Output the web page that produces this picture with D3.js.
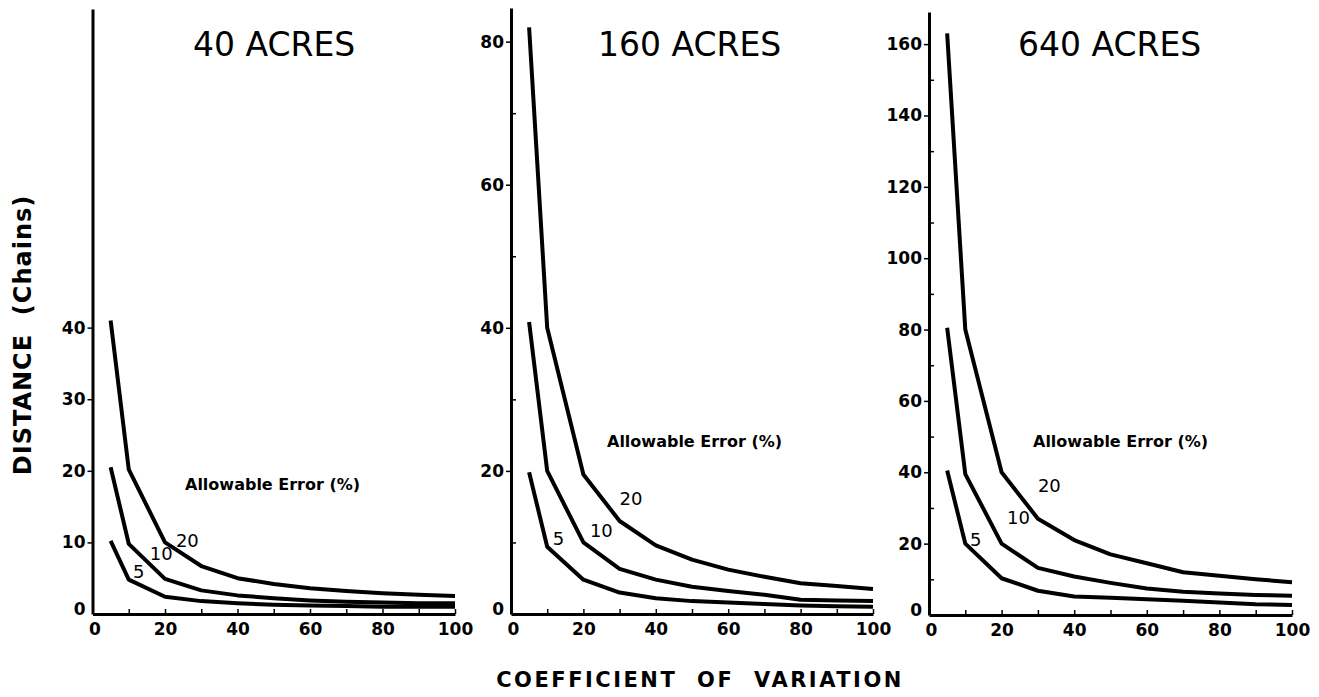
<!DOCTYPE html>
<html>
<head>
<meta charset="utf-8">
<script src="https://cdn.jsdelivr.net/npm/d3@7"></script>
<style>
	html, body { margin: 0; padding: 0; background: #fff; }
	svg { display: block; }
	.axis path, .axis line { stroke: #000; }
	.axis text { font-family: "DejaVu Sans", sans-serif; font-weight: bold; font-size: 17px; fill: #000; }
	.title { font-family: "DejaVu Sans", sans-serif; font-size: 33px; }
	.bold { font-family: "DejaVu Sans", sans-serif; font-weight: bold; }
</style>
</head>
<body>
<svg id="chart" width="1319" height="697"></svg>
<script>

// coefficient of variation (x)
var cv = [5, 10, 20, 30, 40, 50, 60, 70, 80, 90, 100];
var xTicks = [0, 10, 20, 30, 40, 50, 60, 70, 80, 90, 100];
var xLabels = [0, 20, 40, 60, 80, 100];

// distance in chains, one array per allowable error (5, 10, 20 %)
var acres40_e5 = [10.2, 4.8, 2.4, 1.8, 1.5, 1.3, 1.2, 1.1, 1.0, 1.0, 1.0];
var acres40_e10 = [20.5, 9.8, 4.9, 3.3, 2.6, 2.2, 1.9, 1.7, 1.6, 1.5, 1.5];
var acres40_e20 = [41, 20.2, 10, 6.7, 5, 4.2, 3.6, 3.2, 2.9, 2.7, 2.5];

var acres160_e5 = [19.8, 9.4, 4.8, 3.0, 2.2, 1.8, 1.6, 1.4, 1.2, 1.1, 1.0];
var acres160_e10 = [40.8, 20, 10, 6.3, 4.8, 3.8, 3.2, 2.7, 2.0, 1.9, 1.8];
var acres160_e20 = [82, 40, 19.5, 13, 9.6, 7.6, 6.2, 5.2, 4.3, 3.9, 3.5];

var acres640_e5 = [40.5, 20, 10.3, 6.8, 5.2, 4.8, 4.4, 4.0, 3.5, 3.0, 2.8];
var acres640_e10 = [80.5, 39.5, 20, 13.2, 10.8, 9, 7.4, 6.5, 6, 5.6, 5.4];
var acres640_e20 = [163, 80, 40, 27, 21, 17, 14.5, 12, 11, 10, 9.2];

var errorLabels = ['5', '10', '20'];

// curve label anchors, in data units [cv, distance]
var labelAt40 = [[11.2, 5.0], [15.8, 7.5], [23, 9.3]];
var labelAt160 = [[11.5, 9.6], [21.8, 10.8], [30, 15.3]];
var labelAt640 = [[11.3, 19.3], [21.5, 25.5], [30, 34.5]];

var panels, svg, line;

panels = [
	{ title: '40 ACRES', series: [acres40_e5, acres40_e10, acres40_e20], labels: labelAt40,
		yTicks: [0, 10, 20, 30, 40], yMinor: [], yMax: 84.5,
		left: 92.5, right: 455, bottom: 614, top: 9, titleX: 193, noteX: 185, noteY: 490 },
	{ title: '160 ACRES', series: [acres160_e5, acres160_e10, acres160_e20], labels: labelAt160,
		yTicks: [0, 20, 40, 60, 80], yMinor: [10, 30, 50, 70], yMax: 84.7,
		left: 511, right: 873, bottom: 614, top: 8, titleX: 598, noteX: 607, noteY: 447 },
	{ title: '640 ACRES', series: [acres640_e5, acres640_e10, acres640_e20], labels: labelAt640,
		yTicks: [0, 20, 40, 60, 80, 100, 120, 140, 160], yMinor: [10, 30, 50, 70, 90, 110, 130, 150], yMax: 169,
		left: 929, right: 1292, bottom: 615, top: 12, titleX: 1018, noteX: 1033, noteY: 447 }
];

svg = d3.select('#chart');

panels.forEach(drawPanel);

// shared axis titles
svg.append('text')
	.attr('class', 'bold')
	.attr('transform', 'translate(31,335) rotate(-90)')
	.attr('text-anchor', 'middle')
	.attr('font-size', 24)
	.attr('letter-spacing', 1)
	.attr('xml:space', 'preserve')
	.text('DISTANCE  (Chains)');

svg.append('text')
	.attr('class', 'bold')
	.attr('x', 700)
	.attr('y', 687)
	.attr('text-anchor', 'middle')
	.attr('font-size', 21)
	.attr('letter-spacing', 2.5)
	.attr('word-spacing', 10)
	.text('COEFFICIENT OF VARIATION');

function drawPanel(p) {
	var x, y, g, xAxis, yAxis, yMinor;

	x = d3.scaleLinear().domain([0, 100]).range([p.left, p.right]);
	y = d3.scaleLinear().domain([0, p.yMax]).range([p.bottom, p.top]);

	g = svg.append('g');

	xAxis = d3.axisBottom(x)
		.tickValues(xTicks)
		.tickSize(-5)
		.tickSizeOuter(0)
		.tickPadding(9)
		.tickFormat(function(d) {
			return xLabels.indexOf(d) > -1 ? d : '';
		});

	g.append('g')
		.attr('class', 'axis')
		.attr('transform', 'translate(0,' + p.bottom + ')')
		.call(xAxis)
		.call(function(s) {
			s.select('.domain').attr('stroke-width', 3);
			s.selectAll('.tick line').attr('stroke-width', 1.5);
			s.selectAll('.tick text').attr('dx', function(d) { return d === 0 ? 2 : 0; });
		});

	yAxis = d3.axisLeft(y)
		.tickValues(p.yTicks)
		.tickSize(5)
		.tickSizeOuter(0)
		.tickPadding(2);

	g.append('g')
		.attr('class', 'axis')
		.attr('transform', 'translate(' + p.left + ',0)')
		.call(yAxis)
		.call(function(s) {
			s.select('.domain').attr('stroke-width', 3);
			s.selectAll('.tick line').attr('stroke-width', 1.5)
				.attr('opacity', function(d) { return d === 0 ? 0 : 1; });
			s.selectAll('.tick text').attr('dy', function(d) { return d === 0 ? '0.05em' : '0.32em'; });
		});

	yMinor = d3.axisRight(y)
		.tickValues(p.yMinor)
		.tickSize(5)
		.tickSizeOuter(0)
		.tickFormat('');

	g.append('g')
		.attr('class', 'axis')
		.attr('transform', 'translate(' + p.left + ',0)')
		.call(yMinor)
		.call(function(s) {
			s.select('.domain').remove();
			s.selectAll('.tick line').attr('stroke-width', 1.5);
		});

	line = d3.line()
		.x(function(d, i) { return x(cv[i]); })
		.y(function(d) { return y(d); });

	g.selectAll('path.curve')
		.data(p.series)
		.enter().append('path')
		.attr('class', 'curve')
		.attr('d', line)
		.attr('fill', 'none')
		.attr('stroke', '#000')
		.attr('stroke-width', 4)
		.attr('stroke-linejoin', 'round');

	g.selectAll('text.curve-label')
		.data(p.labels)
		.enter().append('text')
		.attr('class', 'curve-label')
		.attr('x', function(d) { return x(d[0]); })
		.attr('y', function(d) { return y(d[1]); })
		.attr('font-family', 'DejaVu Sans, sans-serif')
		.attr('font-size', 18)
		.text(function(d, i) { return errorLabels[i]; });

	g.append('text')
		.attr('class', 'title')
		.attr('x', p.titleX)
		.attr('y', 56)
		.text(p.title);

	g.append('text')
		.attr('class', 'bold')
		.attr('x', p.noteX)
		.attr('y', p.noteY)
		.attr('font-size', 16)
		.text('Allowable Error (%)');
}

</script>
</body>
</html>
